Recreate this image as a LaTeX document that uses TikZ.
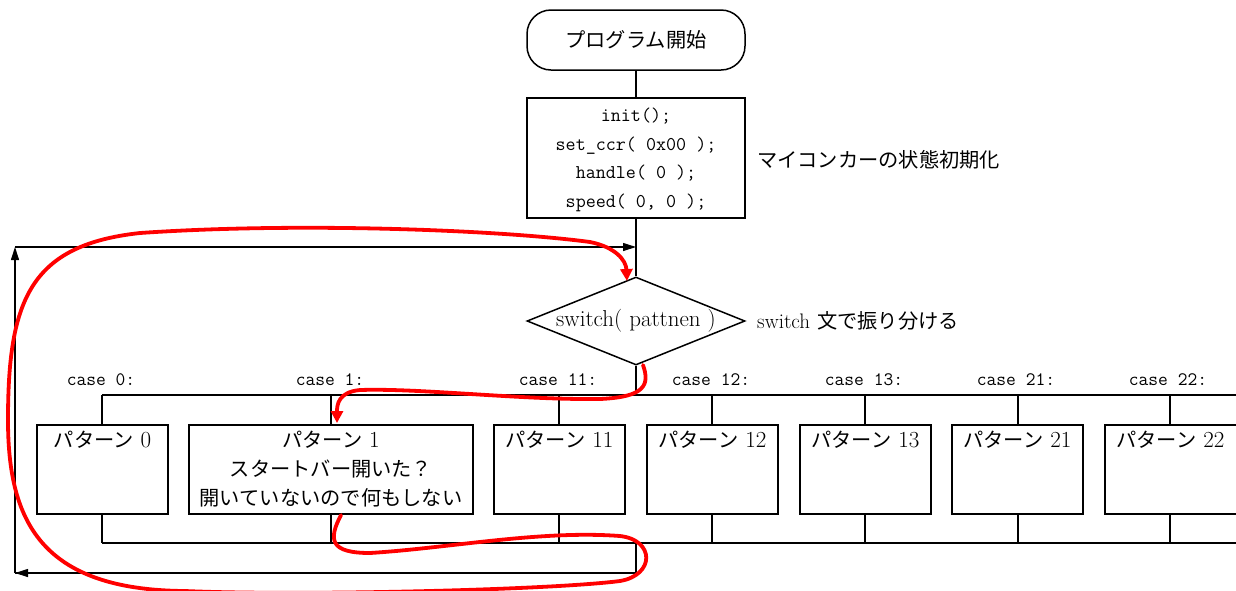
\documentclass[tikz,border=0pt]{standalone}
\usepackage{fontspec}
\newfontfamily\jp{Noto Sans CJK JP}[Scale=0.88]
\usetikzlibrary{shapes.geometric,arrows.meta}
\begin{document}
\begin{tikzpicture}[x=1pt,y=-1pt,
  box/.style={draw, line width=1.5pt, rectangle, inner sep=0pt},
  term/.style={box, rounded corners=24pt, minimum width=218pt, minimum height=60pt},
  pbox/.style={box, minimum width=131pt, minimum height=89pt},
  txt/.style={font=\fontsize{23}{29}\selectfont, inner sep=0pt, align=center},
  code/.style={font=\ttfamily\fontsize{19.5}{28.5}\selectfont, align=center, inner sep=0pt},
  casel/.style={font=\ttfamily\fontsize{19}{22}\selectfont, inner sep=0pt},
  wire/.style={line width=1.5pt},
  loopw/.style={line width=1.1pt, -{Triangle[length=13pt,width=8pt]}},
  redw/.style={red, line width=3.8pt, line cap=round, line join=round, -{Triangle[length=12pt,width=12pt]}}
]
\useasboundingbox (0,0) rectangle (1236,590);
\clip (0,0) rectangle (1236,590);

% top part
\node[term] (start) at (636,40) {};
\node[txt] (starttxt) at (636,40) {\jp プログラム開始};
\node[box, minimum width=218pt, minimum height=120pt] (init) at (636,158) {};
\node[code] (inittxt) at (636,160) {init();\\set\_ccr( 0x00 );\\handle( 0 );\\speed( 0, 0 );};
\node[txt, anchor=west] (lab1) at (757,160) {\jp マイコンカーの状態初期化};
\node[draw, diamond, line width=1.5pt, minimum width=218pt, minimum height=88pt, inner sep=0pt, aspect=2.48] (dia) at (636,321) {};
\node[txt] (diatxt) at (636,321) {switch( pattnen )};
\node[txt, anchor=west] (lab2) at (757,321) {{\fontsize{21}{24}\selectfont switch} {\jp 文で振り分ける}};

% bus coordinates
\coordinate (tL) at (102,395);
\coordinate (tR) at (1240,395);
\coordinate (uL) at (102,543);
\coordinate (uR) at (1240,543);
\coordinate (tM) at (636,395);
\coordinate (uM) at (636,543);

\draw[wire] (start) -- (init);
\draw[wire] (init) -- (dia);
\draw[wire] (dia) -- (tM);
\draw[wire] (tL) -- (tR);
\draw[wire] (uL) -- (uR);

% boxes
\node[pbox] (p0) at (102.5,469.5) {};
\node[txt] (p0t) at (102.5,440) {{\jp パターン} 0};
\node[box, minimum width=284pt, minimum height=89pt] (p1) at (331,469.5) {};
\node[txt] (p1t) at (331,469.5) {{\jp パターン} 1\\{\jp スタートバー開いた？}\\{\jp 開いていないので何もしない}};
\node[pbox] (p11) at (559.5,469.5) {};
\node[txt] (p11t) at (559.5,440) {{\jp パターン} 11};
\node[pbox] (p12) at (712.5,469.5) {};
\node[txt] (p12t) at (712.5,440) {{\jp パターン} 12};
\node[pbox] (p13) at (865.5,469.5) {};
\node[txt] (p13t) at (865.5,440) {{\jp パターン} 13};
\node[pbox] (p21) at (1017.5,469.5) {};
\node[txt] (p21t) at (1017.5,440) {{\jp パターン} 21};
\node[pbox, minimum width=135pt] (p22) at (1172.5,469.5) {};
\node[txt] (p22t) at (1170.5,440) {{\jp パターン} 22};

\foreach \n/\x in {p0/102, p1/331, p11/559, p12/712, p13/865, p21/1018, p22/1170}{
  \coordinate (t\n) at (\x,395);
  \coordinate (u\n) at (\x,543);
  \draw[wire] (t\n) -- (\n.north -| t\n);
  \draw[wire] (\n.south -| u\n) -- (u\n);
}

% case labels
\node[casel] (c0) at (101,380) {case 0:};
\node[casel] (c1) at (330,380) {case 1:};
\node[casel] (c11) at (558,380) {case 11:};
\node[casel] (c12) at (711,380) {case 12:};
\node[casel] (c13) at (864,380) {case 13:};
\node[casel] (c21) at (1016,380) {case 21:};
\node[casel] (c22) at (1168,380) {case 22:};

% loop back
\coordinate (lb) at (636,573);
\coordinate (ll) at (15,573);
\coordinate (lt) at (15,247);
\coordinate (lr) at (636,247);
\draw[line width=1.1pt] (uM) -- (lb) -- (ll);
\draw[loopw] (lb) -- (ll);
\draw[loopw] (ll) -- (lt);
\draw[loopw] (lt) -- (lr);

% red annotation
\coordinate (r1s) at (341,515);
\coordinate (r1e) at (627,281);
\coordinate (r2s) at (643,365);
\coordinate (r2e) at (337,423);
\draw[redw] (r1s) .. controls (328,540) and (330,553) .. (370,553)
  .. controls (450,548) and (540,530) .. (620,536)
  .. controls (655,540) and (655,575) .. (620,581)
  .. controls (550,590) and (300,596) .. (185,591)
  .. controls (40,590) and (8,520) .. (8,420)
  .. controls (8,300) and (30,245) .. (140,233)
  .. controls (300,222) and (500,230) .. (590,242)
  .. controls (615,247) and (626,260) .. (r1e);
\draw[redw] (r2s) .. controls (650,385) and (645,397) .. (600,399)
  .. controls (520,400) and (420,388) .. (360,390)
  .. controls (338,392) and (337,405) .. (r2e);
\end{tikzpicture}
\end{document}
